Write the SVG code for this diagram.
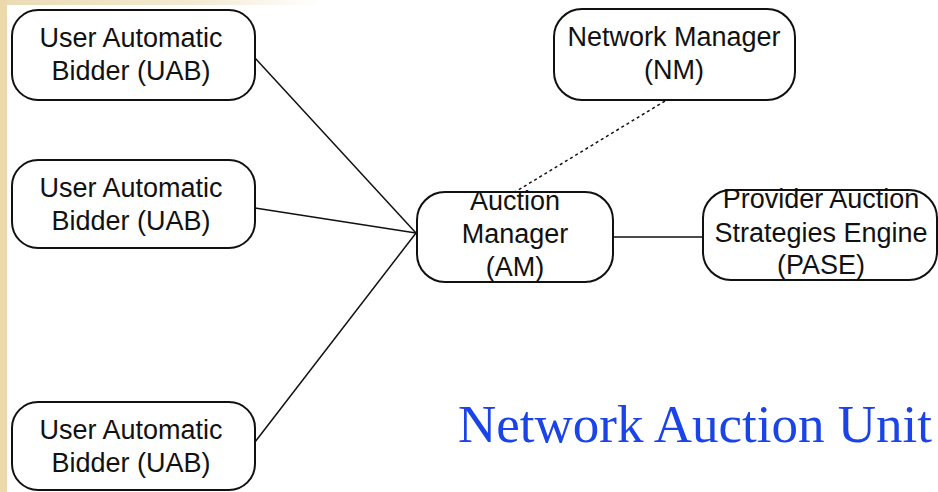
<svg xmlns="http://www.w3.org/2000/svg" width="938" height="492" viewBox="0 0 938 492">
<defs>
<linearGradient id="topfade" x1="0" y1="0" x2="1" y2="0">
<stop offset="0" stop-color="#eadbb4"/>
<stop offset="0.6" stop-color="#f3ead2"/>
<stop offset="1" stop-color="#ffffff"/>
</linearGradient>
<style>
.box{fill:#ffffff;stroke:#111111;stroke-width:2}
.lbl{font-family:"Liberation Sans",Arial,sans-serif;font-size:27px;fill:#111111;text-anchor:middle}
.edge{stroke:#111111;stroke-width:1.5;fill:none}
.dash{stroke:#111111;stroke-width:1.5;fill:none;stroke-dasharray:3,3}
.title{font-family:"Liberation Serif","Times New Roman",serif;font-size:53px;fill:#1a44e8}
</style>
</defs>
<rect x="0" y="0" width="938" height="492" fill="#ffffff"/>
<rect x="0" y="0" width="320" height="5" fill="url(#topfade)"/>
<rect x="0" y="0" width="7" height="492" fill="#ecd8aa"/>

<g id="connectors">
<line class="edge" x1="255" y1="58" x2="416" y2="233"/>
<line class="edge" x1="255" y1="208" x2="416" y2="233"/>
<line class="edge" x1="255" y1="442" x2="416" y2="233"/>
<line class="edge" x1="613" y1="237" x2="703" y2="237"/>
<line class="dash" x1="665" y1="101" x2="515" y2="192"/>
</g>

<g id="uab1">
<rect class="box" x="12" y="10" width="243" height="90" rx="26" ry="26"/>
<text class="lbl" x="131" y="47">User Automatic</text>
<text class="lbl" x="131" y="80">Bidder (UAB)</text>
</g>
<g id="uab2">
<rect class="box" x="12" y="160" width="243" height="88" rx="26" ry="26"/>
<text class="lbl" x="131" y="197">User Automatic</text>
<text class="lbl" x="131" y="230">Bidder (UAB)</text>
</g>
<g id="uab3">
<rect class="box" x="12" y="402" width="243" height="88" rx="26" ry="26"/>
<text class="lbl" x="131" y="439">User Automatic</text>
<text class="lbl" x="131" y="472">Bidder (UAB)</text>
</g>
<g id="nm">
<rect class="box" x="554" y="9" width="241" height="91" rx="28" ry="28"/>
<text class="lbl" x="674" y="46">Network Manager</text>
<text class="lbl" x="674" y="79">(NM)</text>
</g>
<g id="am">
<rect class="box" x="417" y="192" width="196" height="90" rx="28" ry="28"/>
<text class="lbl" x="515" y="210">Auction</text>
<text class="lbl" x="515" y="243">Manager</text>
<text class="lbl" x="515" y="276">(AM)</text>
</g>
<g id="pase">
<rect class="box" x="703" y="190" width="234" height="90" rx="28" ry="28"/>
<text class="lbl" x="821" y="208">Provider Auction</text>
<text class="lbl" x="821" y="242">Strategies Engine</text>
<text class="lbl" x="821" y="274">(PASE)</text>
</g>

<text class="title" x="458" y="442">Network Auction Unit</text>
</svg>
